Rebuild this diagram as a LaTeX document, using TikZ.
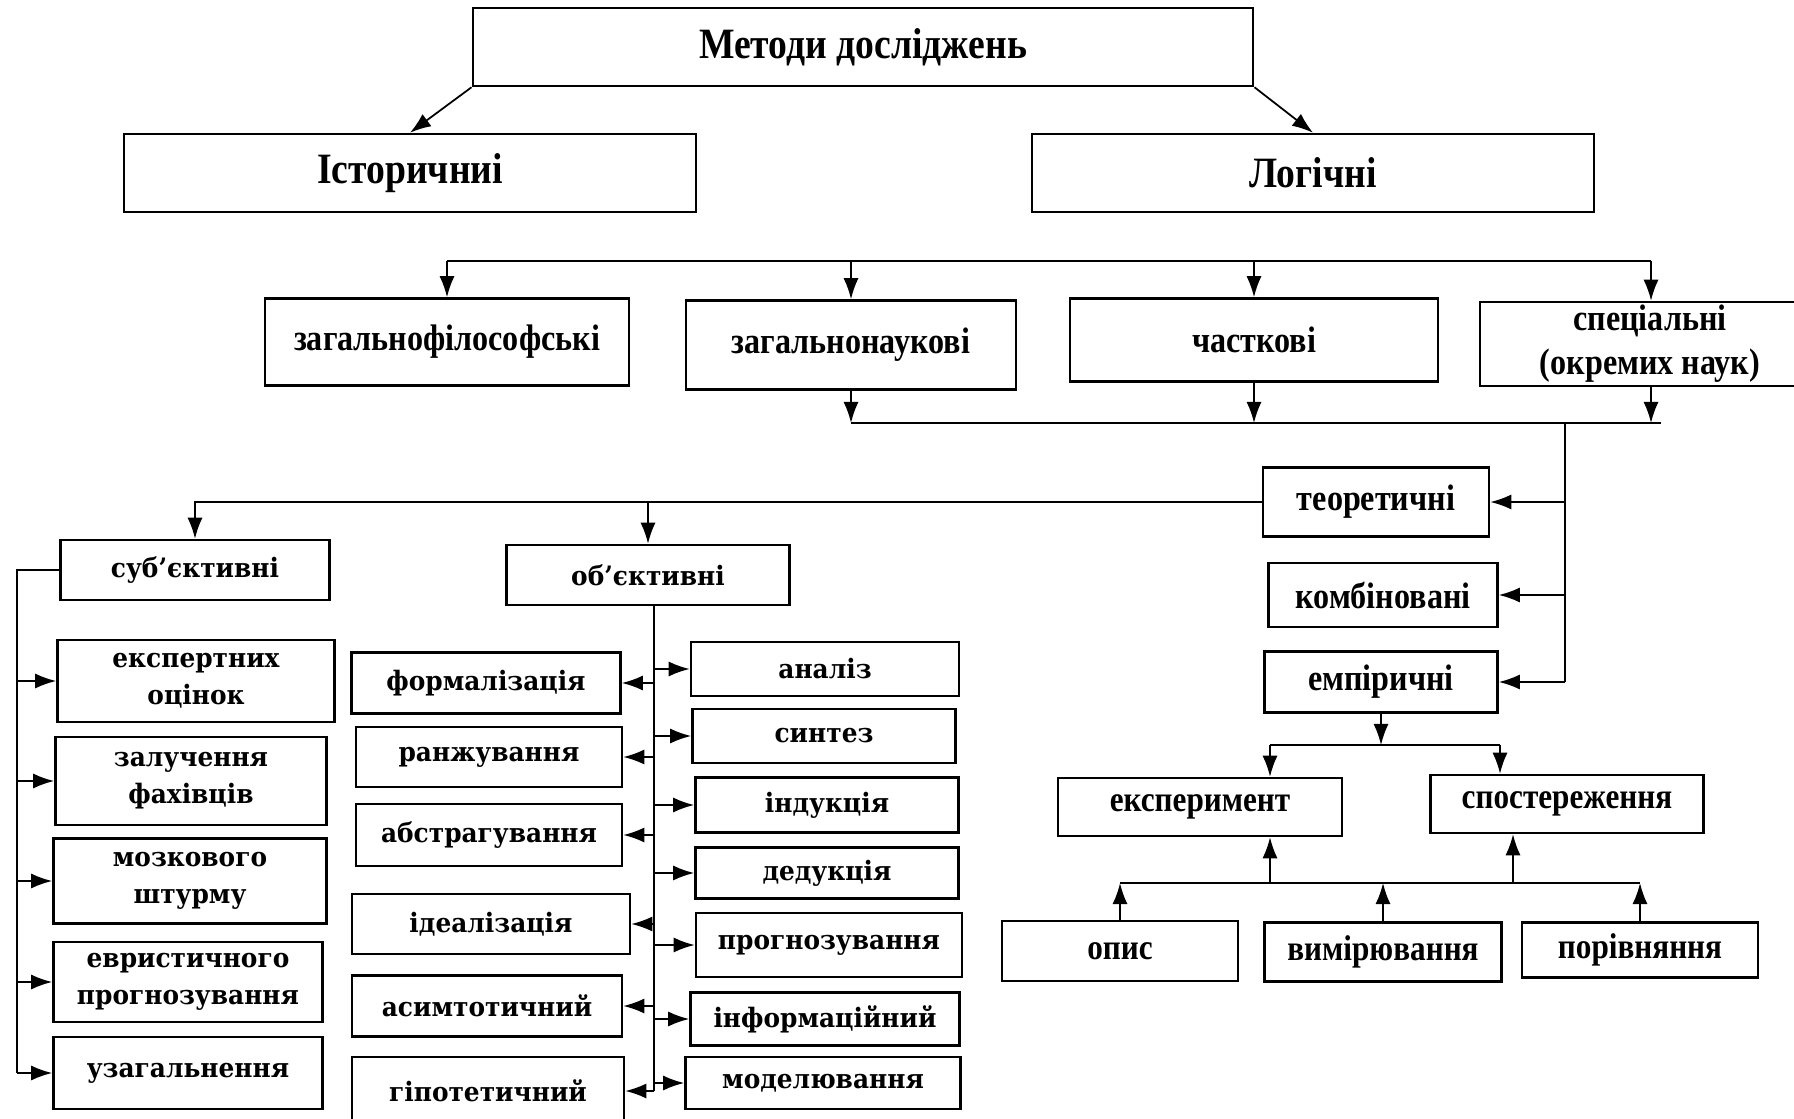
\documentclass[tikz,border=0pt]{standalone}
\usepackage{fontspec}
\setmainfont[FakeStretch=0.87]{Liberation Serif}
\newfontfamily\wideserif[FakeStretch=0.93]{DejaVu Serif}
\usetikzlibrary{arrows.meta}

\begin{document}
\begin{tikzpicture}[x=0.01cm,y=-0.01cm,->,>={Latex[length=2.1mm,width=1.5mm]},line width=0.5pt,
    box/.style={draw,rectangle,line width=0.7pt,inner sep=0pt,align=center,fill=white},
    topbox/.style={box,font=\bfseries\fontsize{12.3}{14}\selectfont},
    midbox/.style={box,font=\bfseries\fontsize{10.5}{12.5}\selectfont},
    lowbox/.style={box,font=\bfseries\fontsize{10.2}{12}\selectfont},
    widebox/.style={box,font=\wideserif\bfseries\fontsize{7.6}{10.5}\selectfont}]

    \useasboundingbox (0,0) rectangle (1794,1119);
    \clip (0,0) rectangle (1794,1119);

    % top levels
    \node[topbox,minimum width=7.8cm,minimum height=0.78cm] (metody) at (863,47) {Методи досліджень};
    \node[topbox,minimum width=5.72cm,minimum height=0.78cm] (istor) at (410,173) {Історичниі};
    \node[topbox,minimum width=5.62cm,minimum height=0.78cm] (logic) at (1313,173) {Логічні};

    \node[midbox,minimum width=3.64cm,minimum height=0.87cm] (zagfil) at (447,342) {загальнофілософські};
    \node[midbox,minimum width=3.3cm,minimum height=0.89cm] (zagnauk) at (851,345) {загальнонаукові};
    \node[midbox,minimum width=3.68cm,minimum height=0.83cm] (chastk) at (1254,340) {часткові};
    \node[midbox,minimum width=3.4cm,minimum height=0.84cm] (spec) at (1650,344) {спеціальні\\(окремих наук)};

    \node[midbox,minimum width=2.26cm,minimum height=0.69cm] (teor) at (1376,502) {теоретичні};
    \node[midbox,minimum width=2.29cm,minimum height=0.64cm] (komb) at (1383,595) {комбіновані};
    \node[midbox,minimum width=2.33cm,minimum height=0.61cm] (emp) at (1381,682) {емпіричні};

    \node[lowbox,minimum width=2.84cm,minimum height=0.58cm] (eksper) at (1200,807) {експеримент};
    \node[lowbox,minimum width=2.73cm,minimum height=0.58cm] (sposter) at (1567,804) {спостереження};
    \node[lowbox,minimum width=2.36cm,minimum height=0.6cm] (opys) at (1120,951) {опис};
    \node[lowbox,minimum width=2.37cm,minimum height=0.59cm] (vymir) at (1383,952) {вимірювання};
    \node[lowbox,minimum width=2.36cm,minimum height=0.55cm] (porivn) at (1640,950) {порівняння};

    % subjective and objective
    \node[widebox,minimum width=2.69cm,minimum height=0.6cm] (subj) at (195,570) {суб’єктивні};
    \node[widebox,minimum width=2.83cm,minimum height=0.6cm] (obj) at (648,575) {об’єктивні};

    \node[widebox,minimum width=2.77cm,minimum height=0.82cm] (expert) at (196,681) {експертних\\оцінок};
    \node[widebox,minimum width=2.71cm,minimum height=0.88cm] (zaluch) at (191,781) {залучення\\фахівців};
    \node[widebox,minimum width=2.73cm,minimum height=0.85cm] (mozk) at (190,881) {мозкового\\штурму};
    \node[widebox,minimum width=2.69cm,minimum height=0.8cm] (evryst) at (188,982) {евристичного\\прогнозування};
    \node[widebox,minimum width=2.69cm,minimum height=0.72cm] (uzag) at (188,1073) {узагальнення};

    \node[widebox,minimum width=2.69cm,minimum height=0.61cm] (formal) at (486,683) {формалізація};
    \node[widebox,minimum width=2.66cm,minimum height=0.6cm] (ranzh) at (489,757) {ранжування};
    \node[widebox,minimum width=2.66cm,minimum height=0.62cm] (abstr) at (489,835) {абстрагування};
    \node[widebox,minimum width=2.78cm,minimum height=0.6cm] (ideal) at (491,924) {ідеалізація};
    \node[widebox,minimum width=2.7cm,minimum height=0.61cm] (asymt) at (487,1006) {асимтотичний};
    \node[widebox,minimum width=2.72cm,minimum height=0.68cm] (hipot) at (488,1091) {гіпотетичний};

    \node[widebox,minimum width=2.68cm,minimum height=0.54cm] (analiz) at (825,669) {аналіз};
    \node[widebox,minimum width=2.63cm,minimum height=0.54cm] (syntez) at (824,736) {синтез};
    \node[widebox,minimum width=2.63cm,minimum height=0.55cm] (indukt) at (827,805) {індукція};
    \node[widebox,minimum width=2.63cm,minimum height=0.51cm] (dedukt) at (827,873) {дедукція};
    \node[widebox,minimum width=2.66cm,minimum height=0.64cm] (prohn) at (829,945) {прогнозування};
    \node[widebox,minimum width=2.69cm,minimum height=0.53cm] (inform) at (825,1019) {інформаційний};
    \node[widebox,minimum width=2.75cm,minimum height=0.52cm] (model) at (823,1083) {моделювання};

    % bus points
    \coordinate (bus1) at (0,261);
    \coordinate (bus2) at (0,423);
    \coordinate (specx) at (1651,0);
    \coordinate (rsp) at (1565,423);
    \coordinate (lsp) at (17,0);
    \coordinate (msp) at (654,0);
    \coordinate (bus3l) at (1270,745);
    \coordinate (bus3r) at (1500,745);
    \coordinate (ekup) at (1270,883);
    \coordinate (spup) at (1513,883);

    \draw (metody.south west) -- (istor.north);
    \draw (metody.south east) -- (logic.north);

    \draw[-] (zagfil.north |- bus1) -- (specx |- bus1);
    \draw (zagfil.north |- bus1) -- (zagfil.north);
    \draw (zagnauk.north |- bus1) -- (zagnauk.north);
    \draw (chastk.north |- bus1) -- (chastk.north);
    \draw (specx |- bus1) -- (specx |- spec.north);

    \draw (zagnauk.south) -- (zagnauk.south |- bus2);
    \draw (chastk.south) -- (chastk.south |- bus2);
    \draw (specx |- spec.south) -- (specx |- bus2);
    \draw[-] (zagnauk.south |- bus2) -- ([xshift=0.1cm]specx |- bus2);

    \draw[-] (rsp) -- (rsp |- emp.east);
    \draw (rsp |- teor.east) -- (teor.east);
    \draw (rsp |- komb.east) -- (komb.east);
    \draw (rsp |- emp.east) -- (emp.east);

    \draw (teor.west) -| (subj.north);
    \draw (teor.west -| obj.north) -- (obj.north);

    % left spine
    \draw[-] (subj.west) -- (subj.west -| lsp) -- (uzag.west -| lsp);
    \draw (expert.west -| lsp) -- (expert.west);
    \draw (zaluch.west -| lsp) -- (zaluch.west);
    \draw (mozk.west -| lsp) -- (mozk.west);
    \draw (evryst.west -| lsp) -- (evryst.west);
    \draw (uzag.west -| lsp) -- (uzag.west);

    % middle spine
    \draw[-] (obj.south -| msp) -- (hipot.east -| msp);
    \draw (formal.east -| msp) -- (formal.east);
    \draw (ranzh.east -| msp) -- (ranzh.east);
    \draw (abstr.east -| msp) -- (abstr.east);
    \draw (ideal.east -| msp) -- (ideal.east);
    \draw (asymt.east -| msp) -- (asymt.east);
    \draw (hipot.east -| msp) -- (hipot.east);
    \draw (analiz.west -| msp) -- (analiz.west);
    \draw (syntez.west -| msp) -- (syntez.west);
    \draw (indukt.west -| msp) -- (indukt.west);
    \draw (dedukt.west -| msp) -- (dedukt.west);
    \draw (prohn.west -| msp) -- (prohn.west);
    \draw (inform.west -| msp) -- (inform.west);
    \draw (model.west -| msp) -- (model.west);

    % empirical
    \draw (emp.south) -- (emp.south |- bus3l);
    \draw[-] (bus3l) -- (bus3r);
    \draw (bus3l) -- (bus3l |- eksper.north);
    \draw (bus3r) -- (bus3r |- sposter.north);

    \draw[-] (opys.north |- ekup) -- (porivn.north |- ekup);
    \draw (opys.north) -- (opys.north |- ekup);
    \draw (vymir.north) -- (vymir.north |- ekup);
    \draw (porivn.north) -- (porivn.north |- ekup);
    \draw (ekup) -- (ekup |- eksper.south);
    \draw (spup) -- (spup |- sposter.south);
\end{tikzpicture}
\end{document}
